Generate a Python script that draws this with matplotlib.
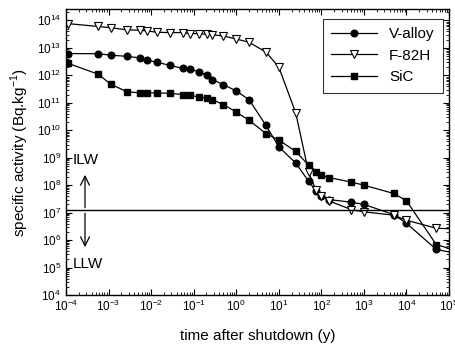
import matplotlib
matplotlib.use('agg')
import matplotlib.pyplot as plt
from matplotlib.ticker import LogLocator, NullFormatter

plt.rcParams['font.family'] = ['Liberation Sans', 'DejaVu Sans']
plt.rcParams['mathtext.fontset'] = 'custom'
plt.rcParams['mathtext.rm'] = 'Liberation Sans'

# time after shutdown (years)
t = [1.14e-4, 5.7e-4, 1.14e-3, 2.74e-3, 5.48e-3, 8.2e-3, 1.37e-2, 2.74e-2,
     5.48e-2, 8.2e-2, 0.137, 0.205, 0.274, 0.5, 1, 2, 5, 10, 25, 50, 75,
     100, 150, 500, 1000, 5000, 10000, 50000, 1e5]

v_alloy = [6.2e12, 6.1e12, 5.4e12, 4.9e12, 4.3e12, 3.5e12, 3e12, 2.3e12,
           1.8e12, 1.7e12, 1.3e12, 1e12, 7e11, 4.6e11, 2.7e11, 1.3e11, 1.5e10,
           2.5e9, 6.4e8, 1.4e8, 6.2e7, 4e7, 3e7, 2.4e7, 2e7, 8.5e6, 4.1e6,
           4.6e5, 3.7e5]
f82h = [7.6e13, 6e13, 5.4e13, 4.5e13, 4.4e13, 4.1e13, 3.7e13, 3.6e13,
        3.6e13, 3.3e13, 3.3e13, 3.1e13, 3e13, 2.7e13, 2.1e13, 1.6e13, 7e12,
        2e12, 4.3e10, 3e8, 6.5e7, 4e7, 2.7e7, 1.3e7, 1.07e7, 8.1e6, 5.3e6,
        2.7e6, 2.6e6]
sic = [2.7e12, 1.1e12, 4.7e11, 2.5e11, 2.3e11, 2.3e11, 2.3e11, 2.2e11,
       2e11, 1.9e11, 1.6e11, 1.5e11, 1.3e11, 8.6e10, 4.6e10, 2.3e10, 7.6e9,
       4.4e9, 1.7e9, 5.4e8, 3e8, 2.3e8, 1.9e8, 1.3e8, 1e8, 5e7, 2.7e7,
       6.9e5, 5e5]

limit = 1.2e7  # ILW / LLW boundary

fig = plt.figure(figsize=(4.56, 3.50), dpi=100)
ax = fig.add_axes([0.1447, 0.157, 0.84, 0.816])

marks = list(range(len(t) - 1))
ax.plot(t, v_alloy, color='black', lw=0.9, marker='o', ms=4.8,
        markevery=marks, label='V-alloy')
ax.plot(t, f82h, color='black', lw=0.9, marker='v', ms=5.5,
        mfc='white', mec='black', mew=0.8, markevery=marks, label='F-82H')
ax.plot(t, sic, color='black', lw=0.9, marker='s', ms=4.8,
        markevery=marks, label='SiC')

ax.axhline(limit, color='black', lw=1.0)

ax.annotate('', xy=(2.8e-4, 3e8), xytext=(2.8e-4, limit),
            arrowprops=dict(arrowstyle='->', color='black', lw=0.9,
                            mutation_scale=16))
ax.annotate('', xy=(2.8e-4, 4.4e5), xytext=(2.8e-4, limit),
            arrowprops=dict(arrowstyle='->', color='black', lw=0.9,
                            mutation_scale=16))
ax.text(1.45e-4, 8.1e8, 'ILW', fontsize=11, va='center', ha='left')
ax.text(1.45e-4, 1.35e5, 'LLW', fontsize=11, va='center', ha='left')

ax.set_xscale('log')
ax.set_yscale('log')
ax.set_xlim(1e-4, 1e5)
ax.set_ylim(1e4, 2.5e14)

ax.xaxis.set_major_locator(LogLocator(base=10, numticks=20))
ax.yaxis.set_major_locator(LogLocator(base=10, numticks=20))
ax.xaxis.set_minor_locator(LogLocator(base=10, subs=range(2, 10), numticks=100))
ax.yaxis.set_minor_locator(LogLocator(base=10, subs=range(2, 10), numticks=100))
ax.xaxis.set_minor_formatter(NullFormatter())
ax.yaxis.set_minor_formatter(NullFormatter())

ax.tick_params(which='both', direction='in', top=True, right=True,
               labelsize=8.5)
ax.tick_params(which='major', length=4, width=0.8)
ax.tick_params(which='minor', length=2, width=0.6)
ax.tick_params(axis='x', pad=2.5)
for s in ax.spines.values():
    s.set_linewidth(1.0)

ax.set_xlabel('time after shutdown (y)', fontsize=11, labelpad=11)
ax.set_ylabel('specific activity (Bq.kg$^{-1}$)', fontsize=11, labelpad=4)

leg = ax.legend(loc='upper right', fontsize=11, frameon=True, fancybox=False,
                edgecolor='black', handlelength=3.0, borderpad=0.55,
                labelspacing=0.5, borderaxespad=0,
                bbox_to_anchor=(0.984, 0.968))
leg.get_frame().set_linewidth(0.8)

fig.savefig('out.png', dpi=100)
